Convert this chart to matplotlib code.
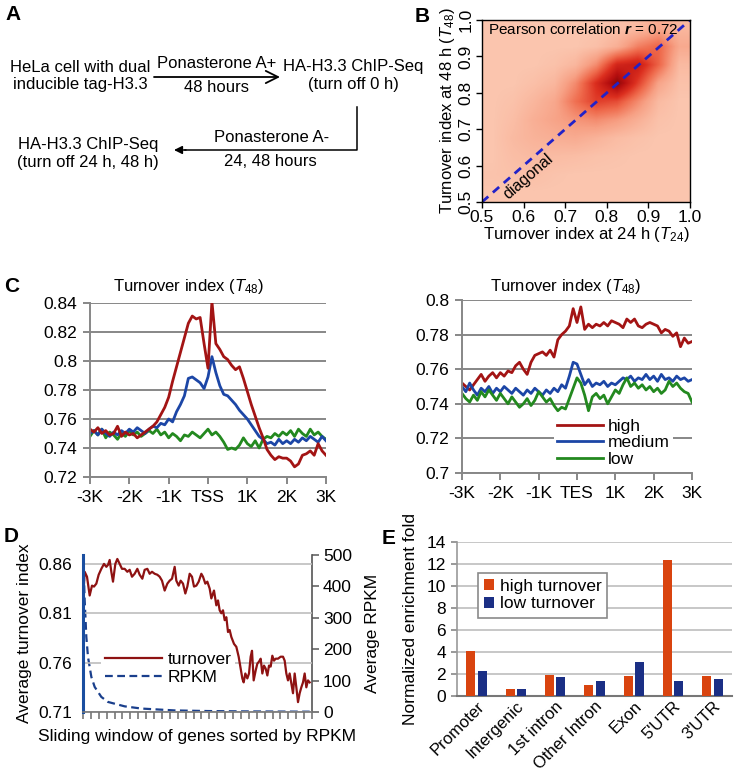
import numpy as np
import matplotlib
matplotlib.use('Agg')
import matplotlib.pyplot as plt
from matplotlib.colors import LinearSegmentedColormap
from matplotlib.lines import Line2D

plt.rcParams['font.family'] = ['Liberation Sans', 'DejaVu Sans']
plt.rcParams['mathtext.fontset'] = 'custom'
plt.rcParams['mathtext.rm'] = 'Liberation Sans'
plt.rcParams['mathtext.it'] = 'Liberation Sans:italic'
plt.rcParams['mathtext.bf'] = 'Liberation Sans:bold'
plt.rcParams['mathtext.bfit'] = 'Liberation Sans:italic:bold'
plt.rcParams['font.size'] = 12

# ---------------- data ----------------
# Panel B: density of genes on a coarse 0.05 grid (rows: T48 bins 0.50..0.95, cols: T24 bins 0.50..0.95)
heat_density = [
    [0.00, 0.00, 0.00, 0.00, 0.00, 0.00, 0.00, 0.00, 0.00, 0.00],
    [0.01, 0.02, 0.03, 0.01, 0.00, 0.00, 0.00, 0.00, 0.00, 0.00],
    [0.00, 0.04, 0.06, 0.05, 0.04, 0.02, 0.01, 0.00, 0.00, 0.00],
    [0.00, 0.06, 0.10, 0.12, 0.14, 0.10, 0.05, 0.02, 0.00, 0.00],
    [0.00, 0.04, 0.12, 0.18, 0.24, 0.28, 0.22, 0.12, 0.02, 0.00],
    [0.00, 0.02, 0.08, 0.16, 0.38, 0.55, 0.50, 0.28, 0.06, 0.00],
    [0.00, 0.00, 0.03, 0.08, 0.28, 0.62, 0.95, 0.55, 0.18, 0.02],
    [0.00, 0.00, 0.00, 0.02, 0.08, 0.28, 0.66, 0.72, 0.42, 0.06],
    [0.00, 0.00, 0.00, 0.00, 0.00, 0.03, 0.12, 0.32, 0.42, 0.15],
    [0.00, 0.00, 0.00, 0.00, 0.00, 0.00, 0.02, 0.06, 0.15, 0.08],
]
pearson_r = 0.72
b_ticks = [0.5, 0.6, 0.7, 0.8, 0.9, 1.0]
b_ticklabels = ['0.5', '0.6', '0.7', '0.8', '0.9', '1.0']

# Panel C: position relative to TSS / TES (bp)
pos = list(range(-3000, 3001, 100))
tss_high = [0.753, 0.751, 0.754, 0.750, 0.752, 0.749, 0.750, 0.755, 0.748, 0.751,
            0.749, 0.750, 0.747, 0.749, 0.751, 0.753, 0.755, 0.758, 0.763, 0.768,
            0.775, 0.786, 0.796, 0.806, 0.816, 0.826, 0.831, 0.829, 0.830, 0.812,
            0.795, 0.841, 0.812, 0.808, 0.803, 0.801, 0.797, 0.794, 0.796, 0.788,
            0.779, 0.770, 0.762, 0.754, 0.747, 0.739, 0.735, 0.732, 0.734, 0.733,
            0.733, 0.731, 0.727, 0.729, 0.735, 0.736, 0.738, 0.735, 0.743, 0.738,
            0.735]
tss_medium = [0.750, 0.752, 0.749, 0.753, 0.750, 0.748, 0.751, 0.749, 0.752, 0.750,
              0.753, 0.751, 0.754, 0.752, 0.750, 0.753, 0.755, 0.754, 0.757, 0.756,
              0.760, 0.758, 0.765, 0.770, 0.776, 0.788, 0.789, 0.787, 0.785, 0.781,
              0.789, 0.803, 0.792, 0.783, 0.777, 0.776, 0.773, 0.770, 0.766, 0.763,
              0.760, 0.756, 0.752, 0.748, 0.746, 0.743, 0.744, 0.742, 0.746, 0.743,
              0.745, 0.743, 0.746, 0.744, 0.747, 0.745, 0.748, 0.746, 0.744, 0.748,
              0.745]
tss_low = [0.748, 0.752, 0.749, 0.753, 0.747, 0.751, 0.749, 0.746, 0.750, 0.748,
           0.752, 0.749, 0.751, 0.748, 0.750, 0.752, 0.750, 0.753, 0.749, 0.751,
           0.747, 0.750, 0.748, 0.745, 0.749, 0.748, 0.751, 0.749, 0.747, 0.750,
           0.753, 0.749, 0.751, 0.748, 0.744, 0.739, 0.740, 0.739, 0.742, 0.747,
           0.743, 0.741, 0.745, 0.740, 0.746, 0.748, 0.747, 0.750, 0.748, 0.751,
           0.749, 0.752, 0.748, 0.753, 0.750, 0.748, 0.753, 0.749, 0.751, 0.748,
           0.746]
tes_high = [0.752, 0.750, 0.748, 0.751, 0.754, 0.757, 0.753, 0.756, 0.758, 0.755,
            0.758, 0.756, 0.759, 0.758, 0.762, 0.764, 0.760, 0.757, 0.764, 0.768,
            0.769, 0.770, 0.768, 0.771, 0.767, 0.777, 0.780, 0.782, 0.785, 0.795,
            0.787, 0.796, 0.783, 0.786, 0.784, 0.786, 0.785, 0.787, 0.785, 0.788,
            0.787, 0.786, 0.784, 0.789, 0.787, 0.789, 0.785, 0.784, 0.786, 0.787,
            0.786, 0.785, 0.781, 0.783, 0.782, 0.779, 0.781, 0.773, 0.778, 0.775,
            0.776]
tes_medium = [0.750, 0.747, 0.752, 0.748, 0.745, 0.749, 0.747, 0.750, 0.746, 0.749,
              0.747, 0.750, 0.748, 0.746, 0.749, 0.747, 0.745, 0.748, 0.746, 0.749,
              0.747, 0.745, 0.748, 0.746, 0.749, 0.747, 0.751, 0.749, 0.756, 0.764,
              0.763, 0.757, 0.751, 0.754, 0.750, 0.752, 0.751, 0.753, 0.750, 0.752,
              0.751, 0.753, 0.755, 0.754, 0.756, 0.753, 0.755, 0.754, 0.757, 0.754,
              0.756, 0.753, 0.757, 0.754, 0.755, 0.753, 0.756, 0.754, 0.755, 0.753,
              0.754]
tes_low = [0.746, 0.743, 0.741, 0.745, 0.742, 0.747, 0.744, 0.748, 0.745, 0.742,
           0.746, 0.743, 0.740, 0.744, 0.741, 0.738, 0.740, 0.743, 0.739, 0.742,
           0.747, 0.744, 0.741, 0.743, 0.739, 0.736, 0.738, 0.737, 0.743, 0.749,
           0.755, 0.752, 0.745, 0.736, 0.744, 0.746, 0.743, 0.745, 0.740, 0.744,
           0.748, 0.746, 0.751, 0.755, 0.750, 0.752, 0.749, 0.751, 0.748, 0.750,
           0.747, 0.749, 0.746, 0.748, 0.753, 0.750, 0.752, 0.749, 0.747, 0.746,
           0.741]
c_xticks = [-3000, -2000, -1000, 0, 1000, 2000, 3000]
c_left_xlabels = ['-3K', '-2K', '-1K', 'TSS', '1K', '2K', '3K']
c_right_xlabels = ['-3K', '-2K', '-1K', 'TES', '1K', '2K', '3K']
c_left_yticks = [0.72, 0.74, 0.76, 0.78, 0.80, 0.82, 0.84]
c_left_ylabels = ['0.72', '0.74', '0.76', '0.78', '0.8', '0.82', '0.84']
c_right_yticks = [0.70, 0.72, 0.74, 0.76, 0.78, 0.80]
c_right_ylabels = ['0.7', '0.72', '0.74', '0.76', '0.78', '0.8']
series_names = ['high', 'medium', 'low']

# Panel D: sliding window index vs average turnover / RPKM
d_window = [0, 5, 12, 20, 27, 33, 40, 47, 55, 63, 70, 75, 80, 85, 90, 97, 103, 110, 117, 125,
            133, 140, 147, 155, 163, 170, 178, 185, 193, 200, 207, 215, 223, 230, 237, 245, 253, 260, 267, 275,
            280, 287, 293, 300, 307, 313, 320, 327, 333, 340, 347, 355, 360, 367, 373, 380, 385, 393, 400, 405,
            410, 415, 420, 425, 430, 435, 440, 445, 453, 460, 467, 473, 478, 482, 487, 493, 498, 503, 507, 512,
            518, 523, 528, 533, 538, 543, 548, 553, 558, 563, 568, 573, 578, 585, 593, 600, 605, 610, 615, 620,
            625, 630, 635, 640, 645, 650, 655, 660, 665, 670, 675, 680]
d_turnover = [0.823, 0.852, 0.847, 0.828, 0.838, 0.837, 0.840, 0.849, 0.855, 0.860, 0.857, 0.859, 0.864, 0.852, 0.842, 0.860, 0.865, 0.860, 0.855, 0.855,
              0.852, 0.854, 0.847, 0.850, 0.855, 0.849, 0.845, 0.854, 0.855, 0.850, 0.852, 0.850, 0.849, 0.847, 0.843, 0.833, 0.840, 0.843, 0.845, 0.857,
              0.843, 0.838, 0.843, 0.840, 0.830, 0.837, 0.850, 0.847, 0.837, 0.838, 0.842, 0.850, 0.847, 0.840, 0.842, 0.835, 0.825, 0.833, 0.818, 0.823,
              0.813, 0.810, 0.813, 0.803, 0.806, 0.791, 0.793, 0.786, 0.779, 0.776, 0.766, 0.754, 0.744, 0.740, 0.749, 0.744, 0.749, 0.766, 0.772, 0.742,
              0.752, 0.759, 0.761, 0.764, 0.749, 0.757, 0.754, 0.747, 0.757, 0.756, 0.767, 0.762, 0.764, 0.764, 0.766, 0.766, 0.762, 0.749, 0.742, 0.749,
              0.739, 0.729, 0.749, 0.735, 0.720, 0.729, 0.735, 0.740, 0.749, 0.735, 0.742, 0.740]
d_rpkm_window = [0, 2, 5, 10, 15, 25, 35, 55, 75, 125, 175, 275, 375, 475, 680]
d_rpkm = [520, 452, 356, 239, 175, 112, 80, 48, 32, 18, 11, 5, 3, 2, 1]
d_left_ticks = [0.71, 0.76, 0.81, 0.86]
d_left_labels = ['0.71', '0.76', '0.81', '0.86']
d_right_ticks = [0, 100, 200, 300, 400, 500]

# Panel E
e_categories = ['Promoter', 'Intergenic', '1st intron', 'Other Intron', 'Exon', "5'UTR", "3'UTR"]
e_high = [4.05, 0.60, 1.90, 1.00, 1.82, 12.35, 1.85]
e_low = [2.25, 0.60, 1.76, 1.37, 3.05, 1.40, 1.52]
e_yticks = [0, 2, 4, 6, 8, 10, 12, 14]

# ---------------- figure ----------------
W, H = 736, 776
fig = plt.figure(figsize=(W / 100, H / 100), dpi=100)


def rect(l, t, r, b):
    return [l / W, 1 - b / H, (r - l) / W, (b - t) / H]


ov = fig.add_axes([0, 0, 1, 1], zorder=20)
ov.set_xlim(0, W)
ov.set_ylim(H, 0)
ov.axis('off')

# panel letters
for letter, (x, y) in zip('ABCDE', [(13, 15), (422, 16), (12, 287), (11, 536), (389, 538)]):
    ov.text(x, y, letter, fontsize=15, fontweight='bold', ha='center', va='center')

# ---------------- Panel A ----------------
fsA = 12
ov.text(80, 76, 'HeLa cell with dual\ninducible tag-H3.3', ha='center', va='center',
        fontsize=fsA, linespacing=1.25)
ov.text(217, 63, 'Ponasterone A+', ha='center', va='center', fontsize=fsA)
ov.text(217, 88, '48 hours', ha='center', va='center', fontsize=fsA)
ov.annotate('', xy=(280, 77), xytext=(154, 77),
            arrowprops=dict(arrowstyle='->', lw=1.3, color='black', mutation_scale=22,
                            shrinkA=0, shrinkB=0))
ov.text(353, 76, 'HA-H3.3 ChIP-Seq\n(turn off 0 h)', ha='center', va='center',
        fontsize=fsA, linespacing=1.25)
ov.plot([357, 357, 185], [107, 150, 150], color='black', lw=1.1)
ov.annotate('', xy=(174, 150), xytext=(186, 150),
            arrowprops=dict(arrowstyle='-|>', lw=1.1, color='black', mutation_scale=12,
                            shrinkA=0, shrinkB=0))
ov.text(88, 153, 'HA-H3.3 ChIP-Seq\n(turn off 24 h, 48 h)', ha='center', va='center',
        fontsize=fsA, linespacing=1.25)
ov.text(272, 138, 'Ponasterone A-', ha='center', va='center', fontsize=fsA)
ov.text(270, 162, '24, 48 hours', ha='center', va='center', fontsize=fsA)

# ---------------- Panel B ----------------
axB = fig.add_axes(rect(482, 20, 690, 202))
cmap = LinearSegmentedColormap.from_list(
    'bg_reds', ['#fbc5ae', '#f7a084', '#ef6a4c', '#dc2f1f', '#b81010', '#7c0606'])
axB.imshow(np.array(heat_density), origin='lower', extent=(0.5, 1.0, 0.5, 1.0),
           aspect='auto', interpolation='bilinear', cmap=cmap, vmin=0, vmax=1)
axB.plot([0.5, 1.0], [0.5, 1.0], color='#2222c8', lw=2, dashes=(3, 2.2))
axB.set_xlim(0.5, 1.0)
axB.set_ylim(0.5, 1.0)
axB.set_xticks(b_ticks)
axB.set_xticklabels(b_ticklabels)
axB.set_yticks(b_ticks)
axB.set_yticklabels(b_ticklabels, rotation=90, va='center')
axB.tick_params(length=4, width=1, pad=2, labelsize=12.5)
for s in axB.spines.values():
    s.set_linewidth(1.0)
axB.text(0.514, 0.975, r'Pearson correlation $\mathbfit{r}$ = ' + f'{pearson_r:.2f}',
         ha='left', va='center', fontsize=11)
axB.text(0.611, 0.571, 'diagonal', rotation=41, ha='center', va='center', fontsize=11.5)
axB.set_xlabel(r'Turnover index at 24 h ($T_{24}$)', fontsize=12, labelpad=0)
axB.set_ylabel(r'Turnover index at 48 h ($T_{48}$)', fontsize=12, labelpad=1)

# ---------------- Panel C ----------------
line_colors = ['#a31414', '#1c46a6', '#23891f']
grid_c = '#878787'


def style_c(ax, yticks, ylabels, xlabels, ylim):
    ax.set_xlim(-3000, 3000)
    ax.set_ylim(*ylim)
    ax.set_yticks(yticks)
    ax.set_yticklabels(ylabels)
    ax.set_xticks(c_xticks)
    ax.set_xticklabels(xlabels)
    ax.yaxis.grid(True, color=grid_c, lw=1.4)
    ax.set_axisbelow(True)
    for s in ['top', 'right']:
        ax.spines[s].set_visible(False)
    for s in ['left', 'bottom']:
        ax.spines[s].set_color(grid_c)
        ax.spines[s].set_linewidth(1.4)
    ax.tick_params(axis='y', length=5, width=1.4, color=grid_c, pad=4, labelsize=12.5)
    ax.tick_params(axis='x', length=5, width=1.4, color=grid_c, pad=4, labelsize=12.5)


axC1 = fig.add_axes(rect(90, 303, 326, 477))
for vals, col in zip([tss_high, tss_medium, tss_low][::-1], line_colors[::-1]):
    axC1.plot(pos, vals, color=col, lw=2.0)
style_c(axC1, c_left_yticks, c_left_ylabels, c_left_xlabels, (0.72, 0.84))

axC2 = fig.add_axes(rect(462, 300, 692, 473))
handles = []
for vals, col, name in zip([tes_high, tes_medium, tes_low], line_colors, series_names):
    h, = axC2.plot(pos, vals, color=col, lw=2.0, label=name)
    handles.append(h)
style_c(axC2, c_right_yticks, c_right_ylabels, c_right_xlabels, (0.70, 0.80))
legC = axC2.legend(handles=handles, loc='upper left', bbox_to_anchor=(0.40, 0.335),
                   frameon=True, framealpha=1, edgecolor='none', fancybox=False,
                   handlelength=2.6, handletextpad=0.3, labelspacing=0.08,
                   borderpad=0.2, fontsize=12.5, borderaxespad=0)

ov.text(189, 286, r'Turnover index ($T_{48}$)', ha='center', va='center', fontsize=12)
ov.text(566, 286, r'Turnover index ($T_{48}$)', ha='center', va='center', fontsize=12)

# ---------------- Panel D ----------------
axD = fig.add_axes(rect(83, 555, 312, 712))
axD2 = axD.twinx()
axD.set_zorder(2)
axD.patch.set_visible(False)
axD2.set_zorder(1)
lt, = axD.plot(d_window, d_turnover, color='#8e1212', lw=1.6)
lr, = axD2.plot(d_rpkm_window, d_rpkm, color='#1a3f8c', lw=1.6, dashes=(3.5, 2))
axD.set_xlim(0, 687)
axD.set_ylim(0.71, 0.869)
axD2.set_ylim(0, 500)
axD.set_yticks(d_left_ticks)
axD.set_yticklabels(d_left_labels)
axD2.set_yticks(d_right_ticks)
axD.yaxis.grid(True, color='#bdbdbd', lw=1.2)
axD.set_xticks(np.linspace(0, 687, 30))
axD.set_xticklabels([])
axD.tick_params(axis='x', length=5, width=1.2, color='#777777')
axD.tick_params(axis='y', length=0, pad=8, labelsize=12.5)
axD2.tick_params(axis='y', length=5, width=1.2, color='#666666', pad=3, labelsize=12.5)
for ax in (axD, axD2):
    ax.spines['top'].set_visible(False)
axD.spines['right'].set_visible(False)
axD2.spines['left'].set_visible(False)
axD2.spines['bottom'].set_visible(False)
axD.spines['left'].set_color('#1a4ea0')
axD.spines['left'].set_linewidth(2.2)
axD.spines['bottom'].set_color('#777777')
axD.spines['bottom'].set_linewidth(1.2)
axD2.spines['right'].set_color('#555555')
axD2.spines['right'].set_linewidth(1.2)
legD = axD.legend([lt, lr], ['turnover', 'RPKM'], loc='upper left',
                  bbox_to_anchor=(0.08, 0.405), frameon=True, framealpha=1,
                  edgecolor='none', fancybox=False, handlelength=3.3,
                  handletextpad=0.3, labelspacing=0.15, borderpad=0.2,
                  fontsize=12.5, borderaxespad=0)
axD.set_xlabel('Sliding window of genes sorted by RPKM', fontsize=12.5, labelpad=4)
axD.set_ylabel('Average turnover index', fontsize=12.5, labelpad=4)
axD2.set_ylabel('Average RPKM', fontsize=12.5, labelpad=9)

# ---------------- Panel E ----------------
axE = fig.add_axes(rect(457, 542, 732, 696))
xe = np.arange(len(e_categories))
bw = 0.23
axE.bar(xe - 0.145, e_high, width=bw, color='#d9440f', label='high turnover', zorder=3)
axE.bar(xe + 0.145, e_low, width=bw, color='#1b2f85', label='low turnover', zorder=3)
axE.set_xlim(-0.5, len(e_categories) - 0.5)
axE.set_ylim(0, 14)
axE.set_yticks(e_yticks)
axE.yaxis.grid(True, color='#bdbdbd', lw=1.2)
axE.set_axisbelow(True)
axE.set_xticks(xe)
axE.set_xticklabels(e_categories, rotation=45, ha='right', rotation_mode='anchor',
                    fontsize=12)
axE.tick_params(axis='x', length=0, pad=2)
axE.tick_params(axis='y', length=4, width=1.2, color='#888888', pad=4, labelsize=12.5)
for s in ['top', 'right']:
    axE.spines[s].set_visible(False)
axE.spines['left'].set_color('#999999')
axE.spines['left'].set_linewidth(1.2)
axE.spines['bottom'].set_color('#777777')
axE.spines['bottom'].set_linewidth(1.5)
legE = axE.legend(loc='upper left', bbox_to_anchor=(0.076, 0.8), frameon=True,
                  framealpha=1, edgecolor='#8a8a8a', fancybox=False,
                  handlelength=0.6, handleheight=0.6, handletextpad=0.3,
                  labelspacing=0.15, borderpad=0.35, fontsize=12.5, borderaxespad=0)
legE.get_frame().set_linewidth(1.2)
axE.set_ylabel('Normalized enrichment fold', fontsize=12.5, labelpad=6)

fig.savefig('out.png', dpi=100)
